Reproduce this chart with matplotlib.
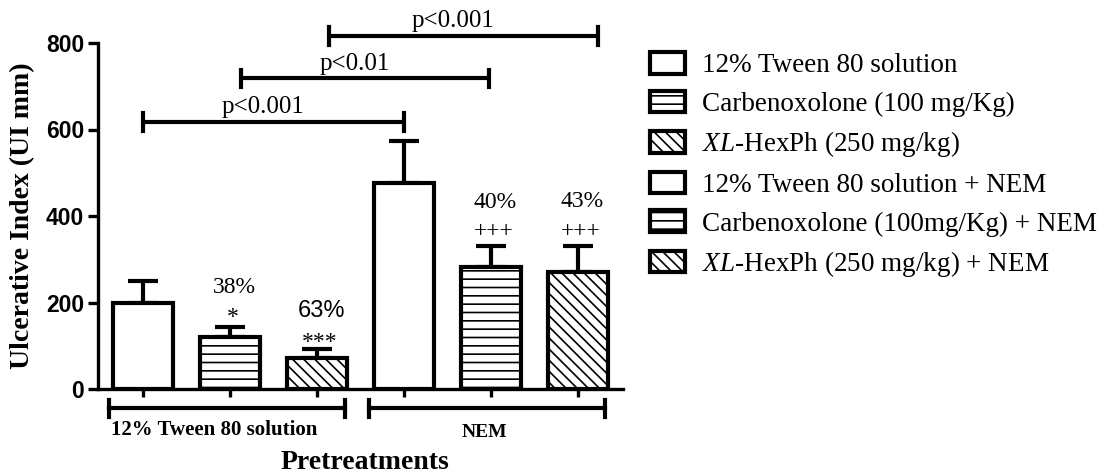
import matplotlib
matplotlib.use("Agg")
import matplotlib.pyplot as plt
import numpy as np

plt.rcParams['font.family'] = 'Liberation Serif'
plt.rcParams['mathtext.fontset'] = 'custom'
plt.rcParams['mathtext.rm'] = 'Liberation Serif'
plt.rcParams['mathtext.it'] = 'Liberation Serif:italic'
plt.rcParams['hatch.linewidth'] = 1.2

# data
labels = ["12% Tween 80 solution",
          "Carbenoxolone (100 mg/Kg)",
          r"$\mathit{XL}$-HexPh (250 mg/kg)",
          "12% Tween 80 solution + NEM",
          "Carbenoxolone (100mg/Kg) + NEM",
          r"$\mathit{XL}$-HexPh (250 mg/kg) + NEM"]
medias = [198, 121, 72, 477, 283, 271]
errores = [52, 22, 20, 96, 48, 60]
hatches = ['', '--', '\\\\\\', '', '--', '\\\\\\']
pct = ["", "38%", "63%", "", "40%", "43%"]
marcas = ["", "*", "***", "", "+++", "+++"]
grupos = ["12% Tween 80 solution", "NEM"]

# comparaciones (x1, x2, y, texto)
comparaciones = [(1.0, 4.0, 617, "p<0.001"),
                 (2.12, 4.98, 718, "p<0.01"),
                 (3.14, 6.23, 816, "p<0.001")]

x = np.arange(1, 7)

fig = plt.figure(figsize=(11.05, 4.76), dpi=100)
ax = fig.add_axes([98/1105, 1-389/476, 525/1105, 346/476])

for i in range(6):
    ax.bar(x[i], medias[i], width=0.69, color='white', edgecolor='black',
           linewidth=3, hatch=hatches[i], label=labels[i], zorder=3)
ax.errorbar(x, medias, yerr=[np.zeros(6), errores], fmt='none', ecolor='black',
            elinewidth=3, capsize=11, capthick=3, zorder=2)

ax.set_xlim(0.48, 6.52)
ax.set_ylim(0, 800)
ax.set_yticks([0, 200, 400, 600, 800])
ax.set_xticks(x)
ax.set_xticklabels([])
for lab in ax.get_yticklabels():
    lab.set_fontfamily('Liberation Sans')
    lab.set_fontweight('bold')
    lab.set_fontsize(16.5)
ax.tick_params(axis='y', length=7, width=2.4, direction='out', pad=3)
ax.tick_params(axis='x', length=6, width=2.4, direction='out')
for s in ['top', 'right']:
    ax.spines[s].set_visible(False)
for s in ['left', 'bottom']:
    ax.spines[s].set_linewidth(2.4)

# porcentajes y asteriscos
pct_y = [0, 222, 167, 0, 418, 421]
marca_y = [0, 152, 94, 0, 351, 351]
for i in range(6):
    if pct[i]:
        fam = 'Liberation Sans' if i == 2 else 'Liberation Serif'
        ax.text(x[i] + 0.05, pct_y[i], pct[i], ha='center', va='baseline',
                fontsize=17, family=fam)
        ax.text(x[i] + 0.03, marca_y[i], marcas[i], ha='center', va='baseline',
                fontsize=17)

# lineas de significancia
for x1, x2, yy, txt in comparaciones:
    ax.plot([x1, x2], [yy, yy], color='black', lw=3, clip_on=False, solid_capstyle='butt')
    ax.plot([x1, x1], [yy-20, yy+20], color='black', lw=3, clip_on=False)
    ax.plot([x2, x2], [yy-20, yy+20], color='black', lw=3, clip_on=False)
    ax.text((x1+x2)/2 - 0.12, yy + 20, txt, ha='center', va='baseline', fontsize=18)

# corchetes de grupos
tr = ax.get_xaxis_transform()
corchetes = [(0.61, 3.32), (3.60, 6.31)]
for (g1, g2) in corchetes:
    ax.plot([g1, g2], [-0.055, -0.055], color='black', lw=3, transform=tr, clip_on=False)
    ax.plot([g1, g1], [-0.032, -0.081], color='black', lw=3, transform=tr, clip_on=False)
    ax.plot([g2, g2], [-0.032, -0.081], color='black', lw=3, transform=tr, clip_on=False)
ax.text(1.82, -0.118, grupos[0], ha='center', va='center', fontsize=15,
        fontweight='bold', transform=tr)
ax.text(4.93, -0.127, grupos[1], ha='center', va='center', fontsize=14,
        fontweight='bold', transform=tr)

fig.text(365/1105, 0.014, "Pretreatments", ha='center', va='baseline',
         fontsize=20, fontweight='bold')
fig.text(23/1105, 1-216/476, "Ulcerative Index (UI mm)", ha='center', va='center',
         rotation=90, fontsize=20, fontweight='bold')

fig.legend(loc='upper left', bbox_to_anchor=(650/1105, 1-52/476), frameon=False,
           fontsize=19.5, handlelength=1.3, handleheight=0.85, handletextpad=0.63,
           labelspacing=0.46, borderpad=0, borderaxespad=0)

plt.savefig("out.png", dpi=100)
